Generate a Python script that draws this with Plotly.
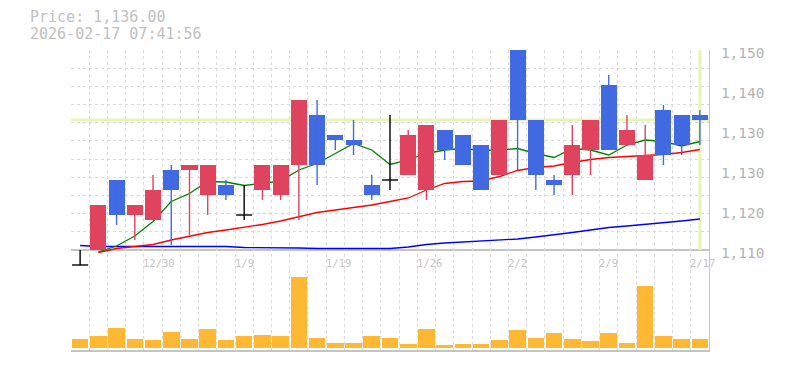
import plotly.graph_objects as go

# ---------------- data ----------------
dates = ["12/24", "12/25", "12/26", "12/29", "12/30", "1/5", "1/6", "1/7", "1/8", "1/9",
         "1/13", "1/14", "1/15", "1/16", "1/19", "1/20", "1/21", "1/22", "1/23", "1/26",
         "1/27", "1/28", "1/29", "1/30", "2/2", "2/3", "2/4", "2/5", "2/6", "2/9",
         "2/10", "2/12", "2/13", "2/16", "2/17"]
opens = [1107, 1110, 1124, 1117, 1116, 1126, 1126, 1121, 1123, 1117,
         1122, 1121, 1127, 1137, 1133, 1132, 1123, 1124, 1125, 1122,
         1134, 1133, 1131, 1125, 1150, 1136, 1124, 1125, 1130, 1143,
         1131, 1124, 1138, 1137, 1137]
highs = [1110, 1119, 1124, 1119, 1125, 1127, 1127, 1127, 1124, 1123,
         1127, 1127, 1140, 1140, 1133, 1136, 1125, 1137, 1134, 1135,
         1134, 1133, 1131, 1136, 1150, 1136, 1125, 1135, 1136, 1145,
         1137, 1135, 1139, 1137, 1138]
lows = [1107, 1110, 1115, 1112, 1116, 1111, 1113, 1117, 1120, 1116,
        1120, 1120, 1116, 1123, 1130, 1129, 1120, 1122, 1125, 1120,
        1128, 1127, 1122, 1125, 1126, 1122, 1121, 1121, 1125, 1130,
        1131, 1124, 1127, 1129, 1131]
closes = [1107, 1119, 1117, 1119, 1122, 1122, 1127, 1127, 1121, 1117,
          1127, 1127, 1140, 1127, 1132, 1131, 1121, 1124, 1133, 1135,
          1130, 1127, 1122, 1136, 1136, 1125, 1123, 1131, 1136, 1130,
          1134, 1129, 1129, 1131, 1136]
volumes = [93, 123, 203, 93, 83, 163, 93, 193, 83, 123,
           133, 123, 717, 103, 53, 53, 123, 103, 43, 193,
           33, 43, 43, 83, 183, 103, 153, 93, 73, 153,
           53, 627, 123, 93, 93]
ma_short = [None, 1109.6, 1110.8, 1112.8, 1115.7, 1119.7, 1121.3, 1123.7, 1123.6, 1122.9,
            1123.3, 1123.8, 1126.0, 1127.3, 1129.3, 1131.3, 1130.0, 1127.1, 1128.0, 1129.3,
            1130.0, 1130.3, 1129.9, 1130.0, 1130.3, 1129.3, 1128.5, 1130.3, 1130.0, 1129.0,
            1131.0, 1132.0, 1131.7, 1130.8, 1131.7]
ma_mid = [None, 1109.5, 1110.3, 1110.7, 1111.1, 1112.0, 1112.8, 1113.5, 1114.0, 1114.5,
          1115.1, 1115.8, 1116.7, 1117.5, 1118.0, 1118.5, 1119.0, 1119.7, 1120.4, 1122.0,
          1123.3, 1123.7, 1123.8, 1124.7, 1125.9, 1126.5, 1126.8, 1127.5, 1128.1, 1128.5,
          1128.7, 1128.9, 1129.1, 1129.5, 1130.1]
ma_long = [1110.9, 1110.7, 1110.7, 1110.7, 1110.7, 1110.7, 1110.7, 1110.7, 1110.7, 1110.5,
           1110.5, 1110.4, 1110.4, 1110.3, 1110.3, 1110.2, 1110.2, 1110.3, 1110.6, 1111.1,
           1111.4, 1111.6, 1111.8, 1112.0, 1112.2, 1112.6, 1113.0, 1113.5, 1114.0, 1114.5,
           1114.8, 1115.1, 1115.5, 1115.8, 1116.2]
price_ticks = [1110, 1118, 1126, 1134, 1142, 1150]
price_tick_text = ["1,110", "1,120", "1,130", "1,130", "1,140", "1,150"]
label_every = 5
label_first = 4
timestamp = "2026-02-17 07:41:56"

# ---------------- styling ----------------
W, H = 785, 370
ML, MR, MT, MB = 70.7, 75.7, 50, 20
PW = W - ML - MR
PH = H - MT - MB
FONT = "DejaVu Sans Mono"
UP, DOWN, FLAT = "#e0435e", "#4169e1", "#000000"
GRID = "#dadada"
AXIS = "#c4c4c4"
HILITE = "#e6f5b4"
VOL = "#ffb833"
BODY_W = 0.88
VOL_W = 0.91
y_lo, y_hi, y_axis_base = 1106, 1150, 1110
vol_split = 80 / PH

n = len(closes)
idx = list(range(n))

fig = go.Figure()

# highlight lines (current price / latest bar)
fig.add_trace(go.Scatter(x=[-0.5, n - 0.5], y=[closes[-1], closes[-1]], mode="lines",
                         line=dict(color=HILITE, width=3), hoverinfo="skip", xaxis="x", yaxis="y"))
fig.add_trace(go.Scatter(x=[n - 1, n - 1], y=[y_axis_base, y_hi], mode="lines",
                         line=dict(color=HILITE, width=3), hoverinfo="skip", xaxis="x", yaxis="y"))

# moving averages
for ser, col in [(ma_long, "#0000ff"), (ma_mid, "#ff0000"), (ma_short, "#008000")]:
    fig.add_trace(go.Scatter(x=idx, y=ser, mode="lines", line=dict(color=col, width=1.3),
                             hoverinfo="skip", xaxis="x", yaxis="y"))

# invisible anchor trace so the right-hand price label axis is drawn
fig.add_trace(go.Scatter(x=[idx[-1]], y=[closes[-1]], mode="markers", marker=dict(opacity=0),
                         hoverinfo="skip", xaxis="x", yaxis="y3"))

# candles (on overlay axis so they sit above the MA lines)
colors = [UP if c > o else (DOWN if c < o else FLAT) for o, c in zip(opens, closes)]
body_base = [min(o, c) for o, c in zip(opens, closes)]
body_h = [abs(c - o) for o, c in zip(opens, closes)]
fig.add_trace(go.Bar(x=idx, y=body_h, base=body_base, width=BODY_W, marker=dict(color=colors, line=dict(width=0)),
                     xaxis="x", yaxis="y4", hoverinfo="skip"))
for col in (UP, DOWN, FLAT):
    wx, wy = [], []
    for i in idx:
        if colors[i] != col:
            continue
        wx += [i, i, None]
        wy += [lows[i], highs[i], None]
        if col == FLAT:
            wx += [i - BODY_W / 2, i + BODY_W / 2, None]
            wy += [opens[i], opens[i], None]
    fig.add_trace(go.Scatter(x=wx, y=wy, mode="lines", line=dict(color=col, width=1.4),
                             hoverinfo="skip", xaxis="x", yaxis="y4"))

# volume
fig.add_trace(go.Bar(x=idx, y=volumes, width=VOL_W, marker=dict(color=VOL, line=dict(width=0)),
                     xaxis="x", yaxis="y2", hoverinfo="skip"))

grid_y = [y_axis_base + k * (y_hi - y_axis_base) / 11 for k in range(1, 12)]

fig.update_layout(
    width=W, height=H, margin=dict(l=ML, r=MR, t=MT, b=MB, pad=0),
    paper_bgcolor="white", plot_bgcolor="rgba(0,0,0,0)", showlegend=False,
    bargap=0,
    xaxis=dict(range=[-0.5, n - 0.5], anchor="y2", tickvals=[i - 0.5 for i in range(n + 1)],
               showticklabels=False, ticks="", showgrid=True, gridcolor=GRID, griddash="3px,3px",
               gridwidth=1, zeroline=False, showline=True, linecolor=AXIS, linewidth=2),
    yaxis=dict(domain=[vol_split, 1], range=[y_lo, y_hi], tickvals=grid_y, showticklabels=False,
               ticks="", showgrid=True, gridcolor=GRID, griddash="3px,3px", gridwidth=1,
               zeroline=False, showline=False, anchor="x"),
    yaxis2=dict(domain=[0, vol_split], range=[-17, 783], showgrid=False, showticklabels=False,
                zeroline=False, side="right", showline=True, linecolor=AXIS, linewidth=1,
                ticks="", anchor="x"),
    yaxis3=dict(overlaying="y", side="right", range=[y_lo + 0.6, y_hi + 0.6], tickvals=price_ticks,
                ticktext=price_tick_text, showgrid=False, zeroline=False, showline=True,
                linecolor=AXIS, linewidth=1, ticks="", ticklabelstandoff=8,
                tickfont=dict(family=FONT, size=14.5, color="#b4b4b4"), anchor="x"),
    yaxis4=dict(overlaying="y", range=[y_lo, y_hi], visible=False, anchor="x"),
)

# bottom line of price panel
fig.add_shape(type="line", xref="x", yref="y", x0=-0.5, x1=n - 0.5, y0=y_axis_base, y1=y_axis_base,
              line=dict(color=AXIS, width=2), layer="below")

# date labels
label_y = (H - MB - 262.5) / PH
for i in range(label_first, n, label_every):
    fig.add_annotation(x=i - 0.5, y=label_y, xref="x", yref="paper", text=dates[i],
                       showarrow=False, xanchor="left", yanchor="middle", xshift=-2.5,
                       font=dict(family=FONT, size=10.5, color="#c4c4c4"))

# header
for txt, py in [(f"Price: {closes[-1]:,.2f}", 17.5), (timestamp, 33.5)]:
    fig.add_annotation(x=(28 - ML) / PW, y=(H - MB - py) / PH, xref="paper", yref="paper",
                       text=txt, showarrow=False, xanchor="left", yanchor="middle",
                       font=dict(family=FONT, size=15, color="#c0c0c0"))

fig.write_html("out.html")
